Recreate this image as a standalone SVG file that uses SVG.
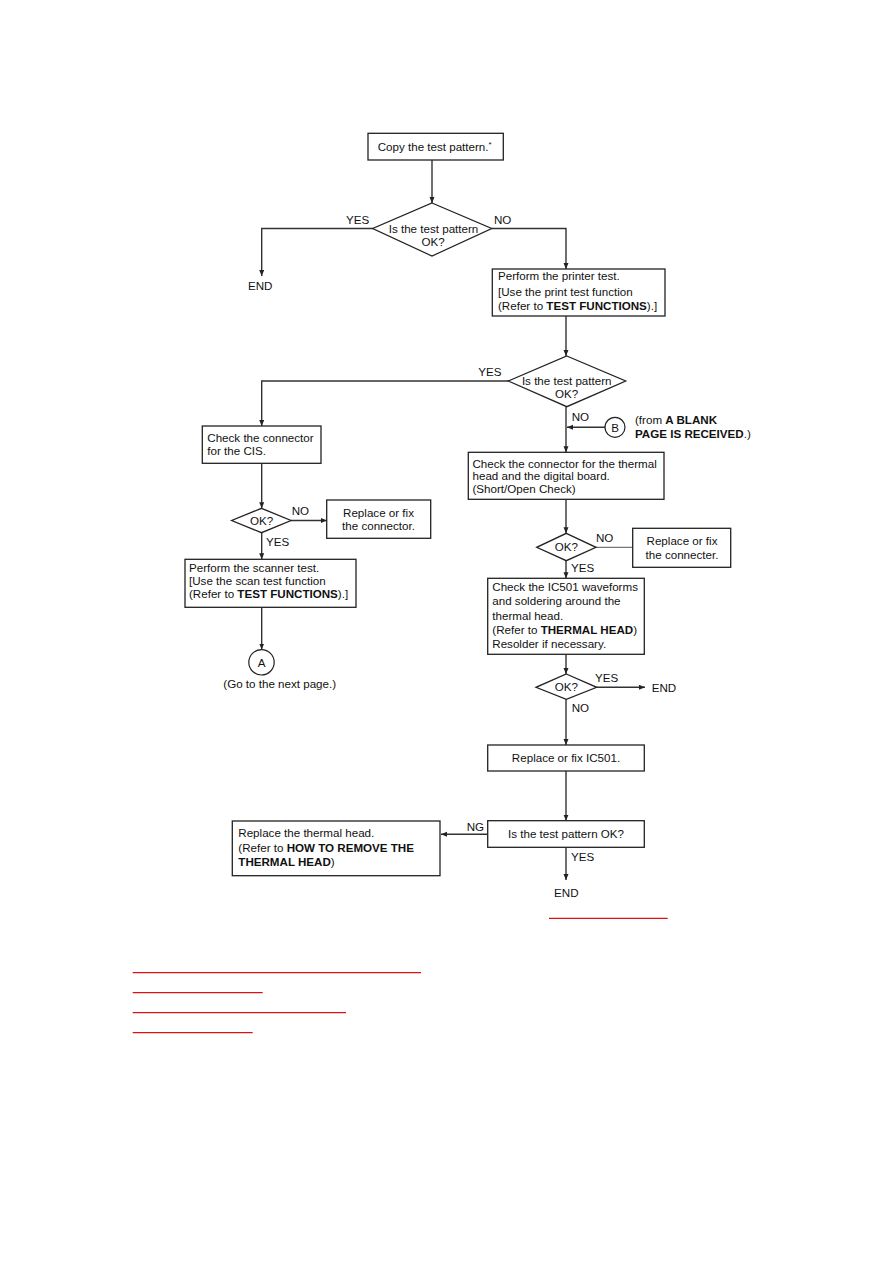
<svg xmlns="http://www.w3.org/2000/svg" width="893" height="1263" viewBox="0 0 893 1263">
<defs>
<style>
text{font-family:"Liberation Sans",Arial,sans-serif;font-size:11.6px;fill:#111}
.b{font-weight:bold}
.c{text-anchor:middle}
.box{fill:#fff;stroke:#222;stroke-width:1.3}
.ln{fill:none;stroke:#333;stroke-width:1.4}
.lt{fill:none;stroke:#777;stroke-width:1.2}
.red{stroke:#d11;stroke-width:1.3}
</style>
<marker id="ah" markerUnits="userSpaceOnUse" markerWidth="7" markerHeight="6" refX="6" refY="2.5" orient="auto">
<path d="M0,0 L6,2.5 L0,5 z" fill="#222"/>
</marker>
</defs>
<rect width="893" height="1263" fill="#fff"/>

<g id="connectors">
<path class="ln" d="M432,160 V203" marker-end="url(#ah)"/>
<path class="ln" d="M373,228.5 H261.7 V276" marker-end="url(#ah)"/>
<path class="ln" d="M491.7,228.5 H566 V269" marker-end="url(#ah)"/>
<path class="ln" d="M566,316 V356" marker-end="url(#ah)"/>
<path class="ln" d="M508.3,381 H261.7 V426" marker-end="url(#ah)"/>
<path class="ln" d="M566,406.7 V452.3" marker-end="url(#ah)"/>
<path class="ln" d="M605,427.3 H567" marker-end="url(#ah)"/>
<path class="ln" d="M261.7,463.3 V508.3" marker-end="url(#ah)"/>
<path class="ln" d="M291,520.5 H326.7" marker-end="url(#ah)"/>
<path class="ln" d="M261.7,532.7 V559.3" marker-end="url(#ah)"/>
<path class="ln" d="M261.7,607.3 V649.5" marker-end="url(#ah)"/>
<path class="ln" d="M566,499.3 V533.3" marker-end="url(#ah)"/>
<path class="lt" d="M596,547.3 H632.7"/>
<path class="ln" d="M566,560.7 V578.3" marker-end="url(#ah)"/>
<path class="ln" d="M566,654.3 V674" marker-end="url(#ah)"/>
<path class="ln" d="M596.7,687.3 H645" marker-end="url(#ah)"/>
<path class="ln" d="M566,699.3 V745" marker-end="url(#ah)"/>
<path class="ln" d="M566,771 V820.7" marker-end="url(#ah)"/>
<path class="ln" d="M487.7,834.3 H441" marker-end="url(#ah)"/>
<path class="ln" d="M566,847.3 V880" marker-end="url(#ah)"/>
</g>

<g id="n_copy">
<rect class="box" x="368" y="133.3" width="135.3" height="26.7"/>
<text x="377.7" y="151">Copy the test pattern.<tspan dy="-4" font-size="8">*</tspan></text>
</g>

<g id="n_dec1">
<polygon class="box" points="432,203 491.7,228.5 432,256 372.7,228.5"/>
<text class="c" x="433.5" y="232.7">Is the test pattern</text>
<text class="c" x="433" y="246">OK?</text>
<text x="346" y="224">YES</text>
<text x="494" y="224">NO</text>
</g>

<g id="n_end1"><text x="248" y="290">END</text></g>

<g id="n_printer">
<rect class="box" x="492.3" y="269" width="172.7" height="47"/>
<text x="498" y="280">Perform the printer test.</text>
<text x="498" y="295.5">[Use the print test function</text>
<text x="498" y="310">(Refer to <tspan class="b">TEST FUNCTIONS</tspan>).]</text>
</g>

<g id="n_dec2">
<polygon class="box" points="566.8,356 625.7,381 566.8,406.7 508.3,381"/>
<text class="c" x="566.7" y="385">Is the test pattern</text>
<text class="c" x="566.7" y="398">OK?</text>
<text x="478.3" y="376">YES</text>
<text x="571.7" y="421">NO</text>
</g>

<g id="n_B">
<circle cx="615" cy="427.3" r="10" fill="#fff" stroke="#222" stroke-width="1.2"/>
<text class="c" x="615" y="431.6">B</text>
<text x="635" y="424">(from <tspan class="b">A BLANK</tspan></text>
<text x="635" y="438.3" class="b">PAGE IS RECEIVED<tspan font-weight="normal">.)</tspan></text>
</g>

<g id="n_cis">
<rect class="box" x="202.3" y="426" width="118.7" height="37.3"/>
<text x="207.3" y="442.3">Check the connector</text>
<text x="207.3" y="455">for the CIS.</text>
</g>

<g id="n_thermconn">
<rect class="box" x="468.3" y="452.3" width="195.7" height="47"/>
<text x="472.5" y="467.5">Check the connector for the thermal</text>
<text x="472.5" y="480">head and the digital board.</text>
<text x="472.5" y="492.5">(Short/Open Check)</text>
</g>

<g id="n_dec_l">
<polygon class="box" points="261.5,508.3 291,520.5 261.5,532.7 231.7,520.5"/>
<text class="c" x="261.5" y="524.5">OK?</text>
<text x="291.7" y="515">NO</text>
<text x="266" y="545.7">YES</text>
</g>

<g id="n_fixconn">
<rect class="box" x="326.7" y="500" width="104" height="38.3"/>
<text class="c" x="378.5" y="516.7">Replace or fix</text>
<text class="c" x="378.5" y="530">the connector.</text>
</g>

<g id="n_scanner">
<rect class="box" x="185" y="559.3" width="171" height="48"/>
<text x="189" y="571.7">Perform the scanner test.</text>
<text x="189" y="585">[Use the scan test function</text>
<text x="189" y="598">(Refer to <tspan class="b">TEST FUNCTIONS</tspan>).]</text>
</g>

<g id="n_A">
<circle cx="261.5" cy="662.3" r="12.7" fill="#fff" stroke="#222" stroke-width="1.2"/>
<text class="c" x="261.5" y="666.6">A</text>
<text x="223.3" y="688.3">(Go to the next page.)</text>
</g>

<g id="n_dec3">
<polygon class="box" points="566.3,533.3 596,547.3 566.3,560.7 536.7,547.3"/>
<text class="c" x="566.3" y="551.3">OK?</text>
<text x="596" y="541.7">NO</text>
<text x="571" y="571.7">YES</text>
</g>

<g id="n_fixconn2">
<rect class="box" x="632.7" y="528.3" width="98" height="39"/>
<text class="c" x="682" y="545">Replace or fix</text>
<text class="c" x="682" y="559.3">the connecter.</text>
</g>

<g id="n_ic501">
<rect class="box" x="487.7" y="578.3" width="156.6" height="76"/>
<text x="492.3" y="590.5">Check the IC501 waveforms</text>
<text x="492.3" y="605">and soldering around the</text>
<text x="492.3" y="619.5">thermal head.</text>
<text x="492.3" y="634">(Refer to <tspan class="b">THERMAL HEAD</tspan>)</text>
<text x="492.3" y="648.3">Resolder if necessary.</text>
</g>

<g id="n_dec4">
<polygon class="box" points="566.3,674 596.7,687.3 566.3,699.3 536,687.3"/>
<text class="c" x="566.3" y="691.3">OK?</text>
<text x="595" y="681.7">YES</text>
<text x="571.7" y="711.7">NO</text>
</g>

<g id="n_end2"><text x="651.7" y="691.7">END</text></g>

<g id="n_fixic">
<rect class="box" x="487.7" y="745" width="156.6" height="26"/>
<text class="c" x="566" y="761.7">Replace or fix IC501.</text>
</g>

<g id="n_testok">
<rect class="box" x="487.7" y="820.7" width="156.6" height="26.6"/>
<text class="c" x="566" y="838.3">Is the test pattern OK?</text>
<text x="466.7" y="830.7">NG</text>
<text x="571" y="861">YES</text>
</g>

<g id="n_replhead">
<rect class="box" x="232.3" y="821" width="207.7" height="54.7"/>
<text x="238.3" y="837.3">Replace the thermal head.</text>
<text x="238.3" y="851.7">(Refer to <tspan class="b">HOW TO REMOVE THE</tspan></text>
<text x="238.3" y="866" class="b">THERMAL HEAD<tspan font-weight="normal">)</tspan></text>
</g>

<g id="n_end3"><text class="c" x="566.3" y="896.7">END</text></g>

<g id="links">
<line class="red" x1="549" y1="918.3" x2="667.7" y2="918.3"/>
<line class="red" x1="132.7" y1="972.7" x2="421" y2="972.7"/>
<line class="red" x1="132.7" y1="992.7" x2="262.7" y2="992.7"/>
<line class="red" x1="132.7" y1="1012.7" x2="346" y2="1012.7"/>
<line class="red" x1="132.7" y1="1032.7" x2="252.7" y2="1032.7"/>
</g>
</svg>
